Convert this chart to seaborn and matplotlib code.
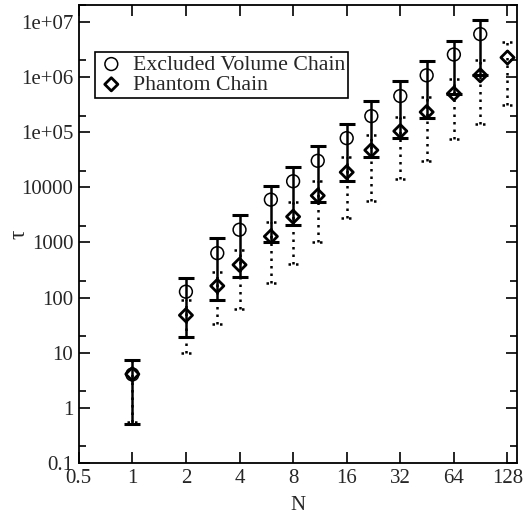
import numpy as np
import pandas as pd
import matplotlib
matplotlib.use("Agg")
import matplotlib.pyplot as plt
import seaborn as sns
from matplotlib.ticker import FixedLocator, FixedFormatter, NullLocator

# Valores (tau medio y extremos de las barras de error)
n_ev = [1, 2, 3, 4, 6, 8, 11, 16, 22, 32, 45, 64, 90]
tau_ev = [4.05, 128, 640, 1700, 5970, 12850, 30200, 77800, 195000, 451000, 1.07e6, 2.55e6, 5.98e6]
lo_ev = [0.52, 19, 91, 238, 1000, 2070, 5335, 13240, 36100, 79100, 1.83e5, 4.84e5, 1.07e6]
hi_ev = [7.3, 225, 1183, 3190, 10740, 23770, 55650, 142200, 361000, 835000, 1.93e6, 4.52e6, 1.074e7]

n_ph = [1, 2, 3, 4, 6, 8, 11, 16, 22, 32, 45, 64, 90, 128]
tau_ph = [4.1, 47.9, 163, 393, 1285, 2930, 7060, 18740, 47100, 104200, 2.31e5, 4.99e5, 1.07e6, 2.25e6]
lo_ph = [0.55, 10, 32.8, 61.5, 187, 405, 1000, 2780, 5610, 14220, 30550, 75900, 1.42e5, 3.15e5]
hi_ph = [7.4, 89.7, 297, 728, 2310, 5335, 12850, 35100, 87100, 187500, 4.33e5, 9.35e5, 2.07e6, 4.22e6]

x_ticks = [0.5, 1, 2, 4, 8, 16, 32, 64, 128]
x_labels = ["0.5", "1", "2", "4", "8", "16", "32", "64", "128"]
y_ticks = [0.1, 1, 10, 100, 1000, 1e4, 1e5, 1e6, 1e7]
y_labels = ["0.1", "1", "10", "100", "1000", "10000", "1e+05", "1e+06", "1e+07"]
y_minor = [0.2, 2, 20, 200, 2000, 2e4, 2e5, 2e6, 2e7]

ev = pd.DataFrame({"N": n_ev, "tau": tau_ev, "lo": lo_ev, "hi": hi_ev})
ph = pd.DataFrame({"N": n_ph, "tau": tau_ph, "lo": lo_ph, "hi": hi_ph})

sns.set_style("ticks")
plt.rcParams["font.family"] = ["Liberation Serif", "DejaVu Serif"]

fig = plt.figure(figsize=(5.25, 5.18), dpi=100)
ax = fig.add_axes([0.150, 0.106, 0.835, 0.884])
ax.set_xscale("log", base=2)
ax.set_yscale("log")

# Barras de error: sólida para volumen excluido, punteada para cadena fantasma
ax.errorbar(ph["N"], ph["tau"], yerr=[ph["tau"] - ph["lo"], ph["hi"] - ph["tau"]],
            fmt="none", ecolor="black", elinewidth=1.8, capsize=0, zorder=2)
for lc in ax.collections:
    lc.set_linestyle((0, (1, 2)))
ax.hlines(list(ph["lo"]) + list(ph["hi"]),
          [n / 2 ** 0.1 for n in list(ph["N"]) * 2],
          [n * 2 ** 0.1 for n in list(ph["N"]) * 2],
          colors="black", linewidth=1.8, linestyles=(0, (1, 2)), zorder=2)
ax.errorbar(ev["N"], ev["tau"], yerr=[ev["tau"] - ev["lo"], ev["hi"] - ev["tau"]],
            fmt="none", ecolor="black", elinewidth=1.8, capsize=5.5,
            capthick=2.2, zorder=3)

sns.scatterplot(data=ph, x="N", y="tau", marker="D", s=45, facecolor="none",
                edgecolor="black", linewidth=2.0, ax=ax, zorder=4,
                label="Phantom Chain")
sns.scatterplot(data=ev, x="N", y="tau", marker="o", s=85, facecolor="none",
                edgecolor="black", linewidth=1.1, ax=ax, zorder=4,
                label="Excluded Volume Chain")

ax.set_xlim(0.5, 145)
ax.set_ylim(0.1, 2e7)
ax.xaxis.set_major_locator(FixedLocator(x_ticks))
ax.xaxis.set_major_formatter(FixedFormatter(x_labels))
ax.xaxis.set_minor_locator(NullLocator())
ax.yaxis.set_major_locator(FixedLocator(y_ticks))
ax.yaxis.set_major_formatter(FixedFormatter(y_labels))
ax.yaxis.set_minor_locator(FixedLocator(y_minor))
ax.tick_params(which="both", direction="in", top=True, right=True,
               labelsize=15, color="black", width=1.2)
ax.tick_params(which="major", length=8, pad=4)
ax.tick_params(which="minor", length=5)
for s in ax.spines.values():
    s.set_linewidth(1.3)
    s.set_color("black")

ax.set_xlabel("N", fontsize=15, labelpad=6)
ax.set_ylabel("τ", fontsize=17, rotation=90)
ax.yaxis.set_label_coords(-0.112, 0.5)

handles, labels = ax.get_legend_handles_labels()
leg = ax.legend(handles[::-1], labels[::-1], loc="upper left",
                bbox_to_anchor=(0.036, 0.898), fontsize=15.7, frameon=True,
                fancybox=False, edgecolor="black", framealpha=1,
                handletextpad=0.35, borderpad=0.12, labelspacing=0.0,
                handlelength=1.3, borderaxespad=0)
leg.get_frame().set_linewidth(1.2)

plt.savefig("out.png", dpi=100)
plt.close()
